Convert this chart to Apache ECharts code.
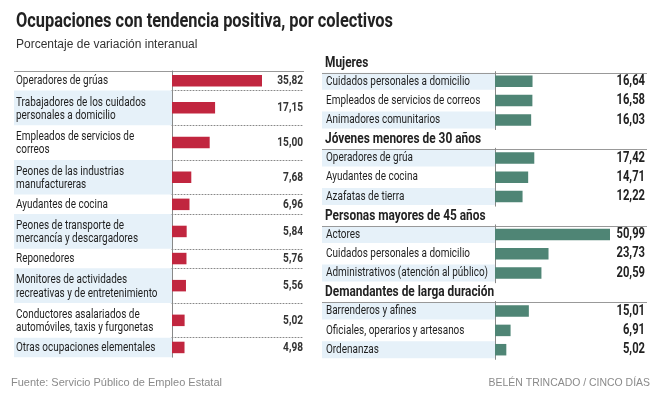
<!DOCTYPE html>
<html><head><meta charset="utf-8">
<script src="https://cdn.jsdelivr.net/npm/echarts@6/dist/echarts.min.js"></script>
<style>html,body{margin:0;padding:0;background:#fff}#c{width:664px;height:398px}</style>
</head><body><div id="c"></div>
<script>
// ---------- DATA ----------
const titleText = 'Ocupaciones con tendencia positiva, por colectivos';
const subtitleText = 'Porcentaje de variación interanual';
const sourceText = 'Fuente: Servicio Público de Empleo Estatal';
const creditText = 'BELÉN TRINCADO / CINCO DÍAS';

const leftLabels = [
  'Operadores de grúas',
  'Trabajadores de los cuidados\npersonales a domicilio',
  'Empleados de servicios de\ncorreos',
  'Peones de las industrias\nmanufactureras',
  'Ayudantes de cocina',
  'Peones de transporte de\nmercancía y descargadores',
  'Reponedores',
  'Monitores de actividades\nrecreativas y de entretenimiento',
  'Conductores asalariados de\nautomóviles, taxis y furgonetas',
  'Otras ocupaciones elementales'
];
const leftValues = [35.82, 17.15, 15.00, 7.68, 6.96, 5.84, 5.76, 5.56, 5.02, 4.98];

const groupNames = ['Mujeres', 'Jóvenes menores de 30 años', 'Personas mayores de 45 años', 'Demandantes de larga duración'];
const mujeresLabels = ['Cuidados personales a domicilio', 'Empleados de servicios de correos', 'Animadores comunitarios'];
const mujeresValues = [16.64, 16.58, 16.03];
const jovenesLabels = ['Operadores de grúa', 'Ayudantes de cocina', 'Azafatas de tierra'];
const jovenesValues = [17.42, 14.71, 12.22];
const mayoresLabels = ['Actores', 'Cuidados personales a domicilio', 'Administrativos (atención al público)'];
const mayoresValues = [50.99, 23.73, 20.59];
const largaLabels = ['Barrenderos y afines', 'Oficiales, operarios y artesanos', 'Ordenanzas'];
const largaValues = [15.01, 6.91, 5.02];
const groupLabels = [mujeresLabels, jovenesLabels, mayoresLabels, largaLabels];
const groupValues = [mujeresValues, jovenesValues, mayoresValues, largaValues];

// ---------- STYLE / LAYOUT ----------
const FAM = "Roboto";
const REG = "'Liberation Sans',Arial,Helvetica,sans-serif";
const RED = '#c1263f', GREEN = '#4f8575', BAND = '#e6f1f9', LINE = '#999';
const fmt = v => v.toFixed(2).replace('.', ',');

const LBL = "13px " + FAM, TF = "bold 21px " + FAM, HF = "bold 14px " + FAM,
      LVF = "bold 13px " + FAM, RVF = "bold 14.5px " + FAM;
const mctx = document.createElement('canvas').getContext('2d');
function tw(text, font) { mctx.font = font; return Math.max(...text.split('\n').map(t => mctx.measureText(t).width)); }
// horizontal condensing so the installed fonts match the condensed face of the original
const sLbl = 130 / tw('Trabajadores de los cuidados', LBL);
const sTitle = 377 / tw(titleText, TF);
const sHead = 156 / tw('Jóvenes menores de 30 años', HF);
const sLV = 25.7 / tw('35,82', LVF);
const sRV = 28.5 / tw('16,64', RVF);

const grid = [], xAxis = [], yAxis = [], series = [], graphic = [];
let gi = 0;

function ctext(x, y, text, font, fill, scale, align, lh) {
  graphic.push({ type: 'text', x, y, scaleX: scale, scaleY: 1, z: 5,
    style: { text, font, fill, textAlign: align || 'left', textVerticalAlign: 'middle', lineHeight: lh || null } });
}

function addRow(o) {
  grid.push({ left: o.axisX, top: o.top, width: o.width, height: o.h, containLabel: false });
  xAxis.push({
    gridIndex: gi, type: 'value', min: 0, max: o.max,
    axisLabel: { show: false }, splitLine: { show: false }, axisTick: { show: false },
    axisLine: { show: !!o.dotted, onZero: false, lineStyle: { color: '#888', type: [1, 2], width: 1 } }
  });
  yAxis.push({
    gridIndex: gi, type: 'category', data: [o.label],
    axisTick: { show: false }, axisLabel: { show: false },
    axisLine: { show: true, lineStyle: { color: '#888', width: 1 } }
  });
  series.push({
    type: 'bar', xAxisIndex: gi, yAxisIndex: gi, data: [o.value],
    barWidth: 11.5, itemStyle: { color: o.color }, silent: true
  });
  const c = o.top + o.h / 2;
  ctext(o.labelX, c + (o.label.indexOf('\n') >= 0 ? 1 : 0), o.label, LBL, '#1e1e1e', sLbl, 'left', 13.2);
  ctext(o.axisX + o.width, c, fmt(o.value), o.vFont, o.vColor, o.vScale, 'right');
  if (o.band) {
    graphic.push({ type: 'rect', z: -10, shape: { x: o.bandX, y: o.bandTop, width: o.axisX - o.bandX, height: o.bandH },
      style: { fill: BAND } });
  }
  gi++;
}

// Left panel
const LTOP = 71, H1 = 19.5, H2 = 34.7;
let y = LTOP;
leftLabels.forEach((lab, i) => {
  const h = lab.indexOf('\n') >= 0 ? H2 : H1;
  addRow({ axisX: 172, labelX: 16, bandX: 14, width: 131, top: y, h, max: 52.14, label: lab, value: leftValues[i],
    dotted: i < leftLabels.length - 1, color: RED, vFont: LVF, vScale: sLV, vColor: '#333',
    band: i % 2 === 1, bandTop: y, bandH: h });
  y += h;
});
graphic.push({ type: 'line', shape: { x1: 14, y1: LTOP + 0.5, x2: 304, y2: LTOP + 0.5 }, style: { stroke: LINE, lineWidth: 1 } });

// Right panel
const RTOP = 72.5, GSTEP = 76.6, PITCH = 19.3;
groupNames.forEach((name, g) => {
  const L = RTOP + g * GSTEP;
  ctext(325, L - 9.5, name, HF, '#222', sHead, 'left');
  graphic.push({ type: 'line', shape: { x1: 322, y1: Math.round(L) + 0.5, x2: 647, y2: Math.round(L) + 0.5 }, style: { stroke: LINE, lineWidth: 1 } });
  groupLabels[g].forEach((lab, r) => {
    const c = L + 8.8 + r * PITCH;
    addRow({ axisX: 495, labelX: 326, bandX: 322, width: 150, top: c - PITCH / 2, h: PITCH, max: 66.51, label: lab,
      value: groupValues[g][r], dotted: false, color: GREEN, vFont: RVF, vScale: sRV, vColor: '#222',
      band: r % 2 === 0, bandTop: c - 8.5, bandH: 17 });
  });
});

// Title / subtitle / footer
ctext(16, 22, titleText, TF, '#222', sTitle, 'left');
ctext(16, 45, subtitleText, "12px " + REG, '#333', 1, 'left');
ctext(11, 383, sourceText, "11px " + REG, '#8a8a8a', 1, 'left');
ctext(650, 383, creditText, "11px " + REG, '#8a8a8a', 0.95, 'right');

const chart = echarts.init(document.getElementById('c'), null, { renderer: 'canvas' });
chart.setOption({
  animation: false,
  backgroundColor: '#fff',
  grid, xAxis, yAxis, series, graphic
});
</script></body></html>
